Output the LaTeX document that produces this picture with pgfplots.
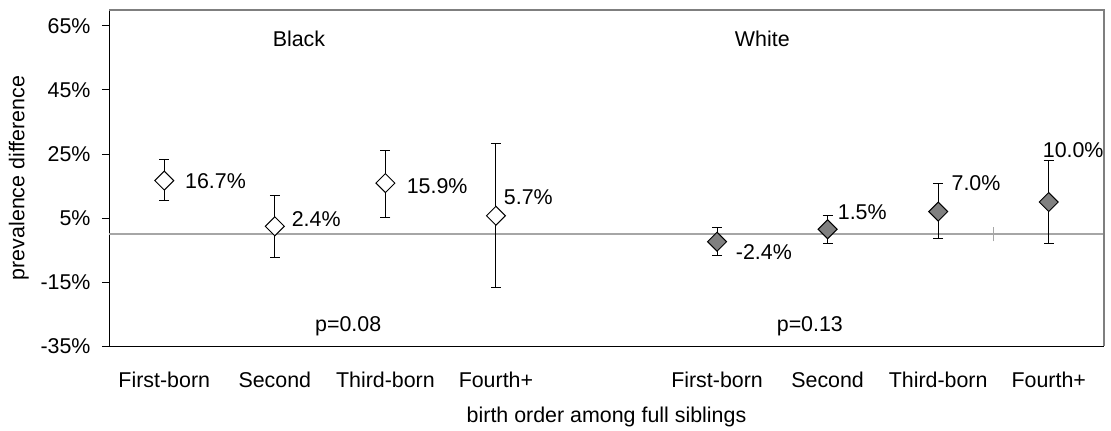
\documentclass[border=0pt]{standalone}
\usepackage{pgfplots}
\pgfplotsset{compat=1.18}
\usepackage{fontspec}
\setmainfont{Liberation Sans}
\definecolor{zerogray}{HTML}{A6A6A6}
\definecolor{framegray}{HTML}{7F7F7F}
\definecolor{markgray}{HTML}{808080}
\begin{document}
\begin{tikzpicture}[font=\fontsize{21.4}{25}\selectfont]
\begin{axis}[
  name=ax, scale only axis, width=995pt, height=336pt,
  xmin=0.5, xmax=9.5, ymin=-35, ymax=70,
  axis lines=left, axis line style={-, black, line width=1pt},
  xtick={1,2,3,4,6,7,8,9},
  xticklabels={First-born,Second,Third-born,Fourth+,First-born,Second,Third-born,Fourth+},
  ytick={-35,-15,5,25,45,65},
  yticklabels={-35\%,-15\%,5\%,25\%,45\%,65\%},
  tick align=outside, major tick length=7pt,
  xtick style={draw=none},
  ytick style={black, line width=1pt},
  xticklabel style={anchor=base, inner sep=0pt, yshift=-34pt},
  yticklabel style={anchor=east, inner sep=0pt, xshift=-11.3pt},
  ylabel={prevalence difference},
  xlabel={birth order among full siblings},
  ylabel style={at={(axis description cs:-0.0905,0.5)}, anchor=center},
  xlabel style={at={(axis description cs:0.5,0)}, anchor=base, inner sep=0pt, yshift=-76pt},
  clip=false,
]
\addplot[zerogray, line width=1.5pt, forget plot] coordinates {(0.5,0) (9.5,0)};
\addplot[zerogray, line width=1pt, forget plot] coordinates {(8.5,-2.3) (8.5,2.3)};
\addplot[only marks, mark=square*, mark size=6.7pt,
  mark options={rotate=45, fill=white, draw=black, line width=1pt},
  error bars/.cd, y dir=both, y explicit,
  error bar style={black, line width=1pt},
  error mark options={rotate=90, black, line width=1pt, mark size=5pt}]
coordinates {
  (1,16.7) += (0,6.5) -= (0,6.1)
  (2,2.4) += (0,9.5) -= (0,9.6)
  (3,15.9) += (0,10.3) -= (0,10.6)
  (4,5.7) += (0,22.6) -= (0,22.5)
};
\addplot[only marks, mark=square*, mark size=6.7pt,
  mark options={rotate=45, fill=markgray, draw=black, line width=1pt},
  error bars/.cd, y dir=both, y explicit,
  error bar style={black, line width=1pt},
  error mark options={rotate=90, black, line width=1pt, mark size=5pt}]
coordinates {
  (6,-2.4) += (0,4.3) -= (0,4.4)
  (7,1.5) += (0,4.2) -= (0,4.4)
  (8,7.0) += (0,8.8) -= (0,8.5)
  (9,10.0) += (0,13.1) -= (0,12.9)
};
\draw[framegray, line width=2pt] (rel axis cs:0,1) -- (rel axis cs:1,1) -- (rel axis cs:1,0);
\node[anchor=west, inner sep=0pt] at (axis cs:1.187,16.56) {16.7\%};
\node[anchor=west, inner sep=0pt] at (axis cs:2.152,4.69) {2.4\%};
\node[anchor=west, inner sep=0pt] at (axis cs:3.192,15.09) {15.9\%};
\node[anchor=west, inner sep=0pt] at (axis cs:4.071,11.56) {5.7\%};
\node[anchor=west, inner sep=0pt] at (axis cs:6.169,-5.53) {-2.4\%};
\node[anchor=west, inner sep=0pt] at (axis cs:7.091,6.97) {1.5\%};
\node[anchor=west, inner sep=0pt] at (axis cs:8.12,16.03) {7.0\%};
\node[anchor=west, inner sep=0pt] at (axis cs:8.945,26.25) {10.0\%};
\node[anchor=base west, inner sep=0pt] at (axis cs:1.980,58.5) {Black};
\node[anchor=base west, inner sep=0pt] at (axis cs:6.160,58.5) {White};
\node[anchor=base west, inner sep=0pt] at (axis cs:2.363,-30.53) {p=0.08};
\node[anchor=base west, inner sep=0pt] at (axis cs:6.539,-30.53) {p=0.13};
\end{axis}
\pgfresetboundingbox
\path ([shift={(-109pt,-84pt)}]ax.south west) rectangle ([shift={(7pt,10pt)}]ax.north east);
\end{tikzpicture}
\end{document}
